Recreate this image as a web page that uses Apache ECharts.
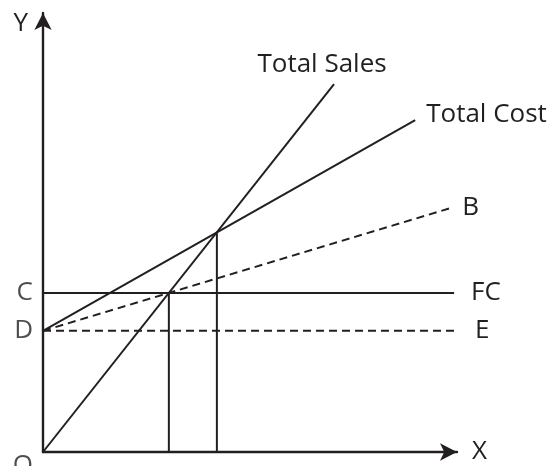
<!DOCTYPE html>
<html>
<head>
<meta charset="utf-8">
<script src="https://cdn.jsdelivr.net/npm/echarts@6/dist/echarts.min.js"></script>
<style>html,body{margin:0;padding:0;background:#fff}#c{width:555px;height:466px}</style>
</head>
<body>
<div id="c"></div>
<script>
// Break-even chart values (x = output, y = amount)
var totalSales = [[0, 0], [70.3, 83.8]];
var totalCost  = [[0, 27.6], [89.9, 75.6]];
var variableB  = [[0, 27.6], [98.6, 55.6]];
var fixedCost  = [[0, 36.2], [99.3, 36.2]];
var lineDE     = [[0, 27.6], [99.3, 27.6]];
var dropA      = [[30.4, 0], [30.4, 36.2]];
var dropBEP    = [[42.0, 0], [42.0, 49.9]];
var axisMarks  = [[0, 36.2, 'C'], [0, 27.6, 'D'], [0, 0, 'O']];

var ink = '#231f20';
var font = 'Open Sans';
var fs = 26;

function endLabel(data, text, pos, dist, off) {
  return data.map(function (p, i) {
    if (i !== data.length - 1) return p;
    return {
      value: p,
      label: {show: true, formatter: text, position: pos, distance: dist, offset: off,
              color: ink, fontFamily: font, fontSize: fs}
    };
  });
}

function line(name, data, dashed, lbl) {
  return {
    name: name, type: 'line', data: data, symbol: lbl ? 'circle' : 'none', clip: false,
    showSymbol: lbl ? true : false, symbolSize: 0,
    lineStyle: {color: ink, width: 2, type: dashed ? [8, 5] : 'solid'},
    silent: true, animation: false
  };
}

var s = [];
s.push(line('Total Sales', endLabel(totalSales, 'Total Sales', 'top', 7, [-12, 0]), false, true));
s.push(line('Total Cost', endLabel(totalCost, 'Total Cost', 'right', 11, [0, -6]), false, true));
s.push(line('B', endLabel(variableB, 'B', 'right', 11, [0, 0]), true, true));
s.push(line('FC', endLabel(fixedCost, 'FC', 'right', 17, [0, 0]), false, true));
s.push(line('E', endLabel(lineDE, 'E', 'right', 21, [0, 0]), true, true));
s.push(line('dropA', dropA, false));
s.push(line('dropBEP', dropBEP, false));
s.push({
  type: 'scatter', data: axisMarks, symbolSize: 0, silent: true, animation: false, clip: false,
  label: {
    show: true, position: 'left', distance: 10, color: ink, fontFamily: font, fontSize: fs,
    formatter: function (p) { return p.data[2]; }
  },
  labelLayout: function (p) {
    if (p.dataIndex === 2) return {dy: 14, dx: 0};
    return {};
  }
});

var chart = echarts.init(document.getElementById('c'), null, {renderer: 'canvas'});
chart.setOption({
  backgroundColor: '#fff',
  animation: false,
  grid: {left: 43, right: 98, top: 13, bottom: 14},
  xAxis: {
    type: 'value', min: 0, max: 100,
    name: 'X', nameLocation: 'end', nameGap: 15,
    nameTextStyle: {color: ink, fontFamily: font, fontSize: fs, align: 'left', verticalAlign: 'middle'},
    axisLine: {show: true, lineStyle: {color: ink, width: 2.4}, symbol: ['none', 'arrow'], symbolSize: [13, 17]},
    axisTick: {show: false}, axisLabel: {show: false}, splitLine: {show: false}
  },
  yAxis: {
    type: 'value', min: 0, max: 100,
    name: 'Y', nameLocation: 'end', nameGap: -11,
    nameTextStyle: {color: ink, fontFamily: font, fontSize: fs, align: 'right', verticalAlign: 'middle', padding: [0, 15, 0, 0]},
    axisLine: {show: true, lineStyle: {color: ink, width: 2.4}, symbol: ['none', 'arrow'], symbolSize: [13, 17]},
    axisTick: {show: false}, axisLabel: {show: false}, splitLine: {show: false}
  },
  series: s
});
</script>
</body>
</html>
